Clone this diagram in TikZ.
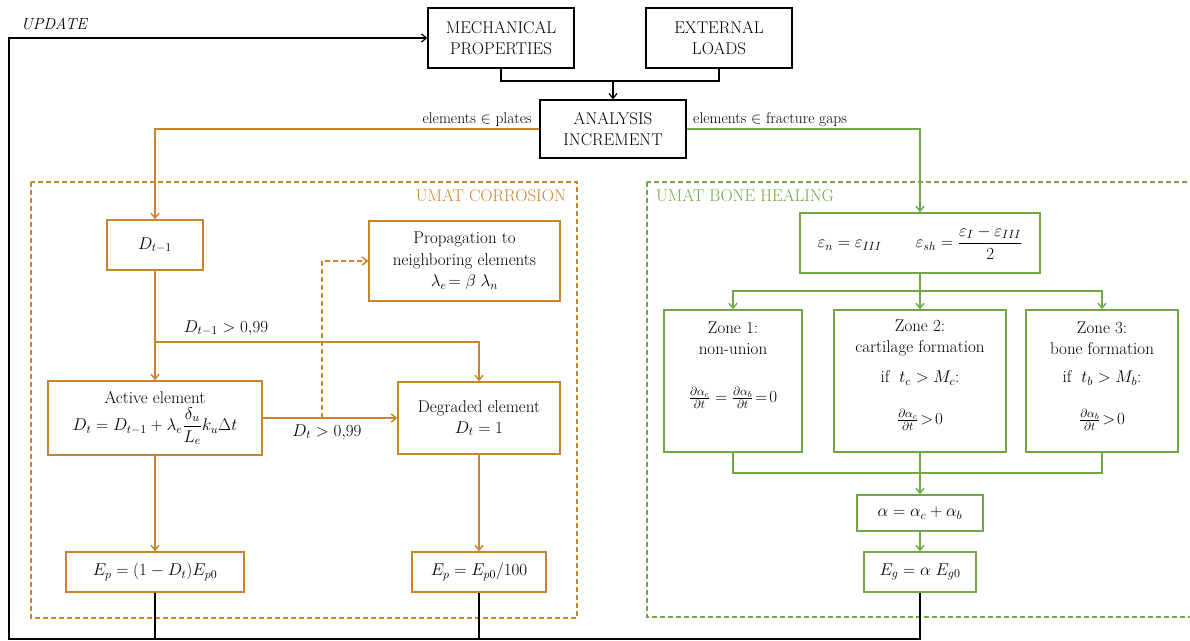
\RequirePackage{fix-cm}
\documentclass[tikz,border=0pt]{standalone}
\usepackage{amsmath}
\usepackage{fontspec}
\usetikzlibrary{arrows.meta}
\definecolor{orc}{RGB}{200,134,44}
\definecolor{grc}{RGB}{112,168,72}
\begin{document}
\begin{tikzpicture}[x=1pt,y=-1pt,
  font=\fontsize{17}{21}\selectfont,
  >={Straight Barb[length=5pt,width=8pt]},
  blkbox/.style={draw=black, line width=1.2pt, align=center, inner sep=2pt},
  orbox/.style={draw=orc, line width=1.4pt, align=center, inner sep=2pt},
  grbox/.style={draw=grc, line width=1.4pt, align=center, inner sep=2pt},
  blk/.style={draw=black, line width=1.2pt},
  orl/.style={draw=orc, line width=1.4pt},
  grl/.style={draw=grc, line width=1.4pt},
  dsh/.style={dash pattern=on 5pt off 3pt},
  lbl/.style={font=\fontsize{15.5}{17}\selectfont, inner sep=1pt}
]
\useasboundingbox (0,0) rectangle (1190,640);
\clip (0,0) rectangle (1190,640);

% dashed frames
\draw[orc, line width=1.3pt, dsh] (31,182) rectangle (577,618);
\draw[grc, line width=1.3pt, dsh] (647,182) rectangle (1210,617);
\node[orc, anchor=east, inner sep=0pt] (tcor) at (566,196) {UMAT CORROSION};
\node[grc, anchor=west, inner sep=0pt] (tbone) at (656,196) {UMAT BONE HEALING};

% top boxes
\node[blkbox, minimum width=146pt, minimum height=60pt] (MP) at (501,38) {MECHANICAL\\PROPERTIES};
\node[blkbox, minimum width=146pt, minimum height=60pt] (EL) at (719,38) {EXTERNAL\\LOADS};
\node[blkbox, minimum width=146pt, minimum height=58pt] (AI) at (613,129) {ANALYSIS\\INCREMENT};

% corrosion boxes
\node[orbox, minimum width=96pt, minimum height=50pt] (D1) at (155,245) {$D_{t-1}$};
\node[orbox, minimum width=191pt, minimum height=80pt, font=\fontsize{17}{21.5}\selectfont] (PR) at (464.5,261) {Propagation to\\neighboring elements\\$\lambda_e\!=\beta\;\lambda_n$};
\node[orbox, minimum width=214pt, minimum height=74pt, font=\fontsize{17}{18}\selectfont] (AC) at (155,418) {Active element\\[3pt]$D_t=D_{t-1}+\lambda_e\dfrac{\delta_u}{L_e}k_u\Delta t$};
\node[orbox, minimum width=162pt, minimum height=72pt] (DG) at (479,418) {Degraded element\\$D_t=1$};
\node[orbox, minimum width=178pt, minimum height=40pt] (E1) at (155,572) {$E_p=(1-D_t)E_{p0}$};
\node[orbox, minimum width=134pt, minimum height=40pt] (E2) at (479,572) {$E_p=E_{p0}/100$};

% bone healing boxes
\node[grbox, minimum width=240pt, minimum height=60pt] (EP) at (920,243) {$\varepsilon_n=\varepsilon_{III}\qquad \varepsilon_{sh}=\dfrac{\varepsilon_I-\varepsilon_{III}}{2}$};
\node[grbox, minimum width=138pt, minimum height=142pt] (Z1) at (733,381) {};
\node[grbox, minimum width=172pt, minimum height=142pt] (Z2) at (920,381) {};
\node[grbox, minimum width=152pt, minimum height=142pt] (Z3) at (1102,381) {};
\node[grbox, minimum width=126pt, minimum height=36pt] (AL) at (920,513) {$\alpha=\alpha_c+\alpha_b$};
\node[grbox, minimum width=112pt, minimum height=40pt] (EG) at (920,572) {$E_g=\alpha\;E_{g0}$};

% zone texts
\node[align=center, inner sep=0pt, font=\fontsize{17}{21}\selectfont] (z1a) at (733,338) {Zone 1:\\non-union};
\node[inner sep=0pt] (z1b) at (733,398) {$\tfrac{\partial\alpha_c}{\partial t}=\tfrac{\partial\alpha_b}{\partial t}\!=\!0$};
\node[align=center, inner sep=0pt, font=\fontsize{17}{21}\selectfont] (z2a) at (920,338) {Zone 2:\\cartilage formation};
\node[inner sep=0pt] (z2b) at (920,378) {if\; $t_c>M_c$:};
\node[inner sep=0pt] (z2c) at (920,420) {$\tfrac{\partial\alpha_c}{\partial t}\!>\!0$};
\node[align=center, inner sep=0pt, font=\fontsize{17}{21}\selectfont] (z3a) at (1102,338) {Zone 3:\\bone formation};
\node[inner sep=0pt] (z3b) at (1102,378) {if\; $t_b>M_b$:};
\node[inner sep=0pt] (z3c) at (1102,420) {$\tfrac{\partial\alpha_b}{\partial t}\!>\!0$};

% top connectors
\coordinate (j1) at (613,81);
\draw[blk] (MP.south) |- (j1) -| (EL.south);
\draw[blk,->] (j1) -- (AI.north);

% update loop
\coordinate (c1) at (9,639);
\draw[blk,->] (EG.south) |- (c1) |- (MP.west);
\draw[blk] (E1.south) -- (E1.south |- c1);
\draw[blk] (E2.south) -- (E2.south |- c1);
\node[anchor=west, inner sep=0pt, font=\fontsize{16}{18}\selectfont\itshape] (upd) at (21,24) {UPDATE};

% analysis branches
\draw[orl,->] (AI.west) -| (D1.north);
\node[lbl, anchor=east] (lp) at (533,120) {elements $\in$ plates};
\draw[grl,->] (AI.east) -| (EP.north);
\node[lbl, anchor=west] (lf) at (692,120) {elements $\in$ fracture gaps};

% corrosion connectors
\coordinate (b1) at (155,342);
\draw[orl,->] (D1.south) -- (AC.north);
\draw[orl,->] (b1) -| (DG.north);
\node[inner sep=0pt] (l1) at (226,328) {$D_{t-1}>0{,}99$};
\coordinate (b2) at (322,418);
\draw[orl,->] (AC.east) -- (DG.west);
\draw[orl,dsh,->] (b2) |- (PR.west);
\node[inner sep=0pt] (l2) at (327,432) {$D_t>0{,}99$};
\draw[orl,->] (AC.south) -- (E1.north);
\draw[orl,->] (DG.south) -- (E2.north);

% bone connectors
\coordinate (g1) at (920,291);
\coordinate (g2) at (920,473);
\draw[grl] (EP.south) -- (g1);
\draw[grl,->] (g1) -| (Z1.north);
\draw[grl,->] (g1) -| (Z3.north);
\draw[grl,->] (g1) -- (Z2.north);
\draw[grl] (Z1.south) |- (g2);
\draw[grl] (Z3.south) |- (g2);
\draw[grl,->] (Z2.south) -- (AL.north);
\draw[grl,->] (AL.south) -- (EG.north);
\end{tikzpicture}
\end{document}
